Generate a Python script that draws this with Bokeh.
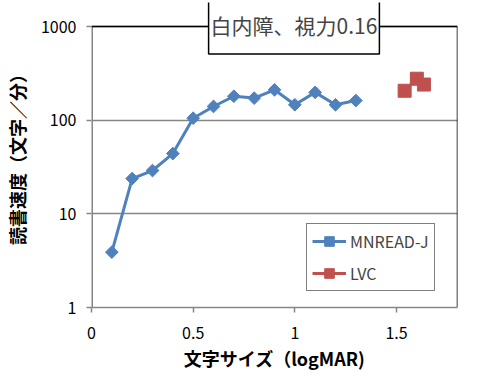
import numpy as np
from bokeh.plotting import figure
from bokeh.models import Label, Legend, LegendItem, FixedTicker, Range1d
from bokeh.embed import file_html
from bokeh.resources import INLINE

# Data
mnread_x = [0.1, 0.2, 0.3, 0.4, 0.5, 0.6, 0.7, 0.8, 0.9, 1.0, 1.1, 1.2, 1.3]
mnread_y = [3.9, 23.8, 29, 44, 105, 140, 180, 172, 211, 146, 198, 146, 162]
lvc_x = [1.54, 1.60, 1.635]
lvc_y = [206, 277, 240]
x_ticks = [0, 0.5, 1, 1.5]
y_ticks = [1, 10, 100, 1000]
title_text = "白内障、視力0.16"
x_label = "文字サイズ（logMAR)"
y_label = "読書速度（文字／分）"

# axis extent of the plot area
x_min, x_max = 0, 1.8
y_min, y_max = 1, 1000

FONT = "Noto Sans CJK JP"
BLUE = "#4F81BD"
RED = "#C0504D"
GRAY = "#868686"

# frame extends a little above the 1000 line so the boxed title is not cut
FRAME_TOP_PAD = 24          # px above the top of the plot area
DECADE_PX = 281 / 3
y_view_top = 10 ** (np.log10(y_max) + FRAME_TOP_PAD / DECADE_PX)

p = figure(width=488, height=384, y_axis_type="log",
           x_range=Range1d(x_min, x_max), y_range=Range1d(y_min, y_view_top),
           output_backend="svg", toolbar_location=None,
           min_border_left=91, min_border_right=31,
           min_border_top=26 - FRAME_TOP_PAD, min_border_bottom=77)

p.background_fill_color = "white"
p.border_fill_color = "white"
p.outline_line_color = None

# grid
p.xgrid.grid_line_color = None
p.ygrid.grid_line_color = GRAY
p.ygrid.grid_line_width = 1.5

# axes
p.xaxis.ticker = FixedTicker(ticks=x_ticks)
p.yaxis.ticker = FixedTicker(ticks=y_ticks)
p.xaxis.major_label_overrides = {0: "0", 0.5: "0.5", 1: "1", 1.5: "1.5"}
p.yaxis.major_label_overrides = {1: "1", 10: "10", 100: "100", 1000: "1000"}
for ax in (p.xaxis, p.yaxis):
    ax.axis_line_color = GRAY
    ax.axis_line_width = 1.5
    ax.major_tick_line_color = GRAY
    ax.major_tick_line_width = 1.5
    ax.major_tick_in = 0
    ax.major_tick_out = 5
    ax.minor_tick_line_color = None
    ax.major_label_text_font = FONT
    ax.major_label_text_font_size = "16px"
    ax.major_label_text_color = "black"
    ax.axis_label_text_font = FONT
    ax.axis_label_text_font_size = "18px"
    ax.axis_label_text_font_style = "bold"
    ax.axis_label_text_color = "black"
p.yaxis.axis_line_color = None
p.xaxis.major_label_standoff = 14
p.yaxis.major_label_standoff = 10
p.xaxis.axis_label = x_label
p.yaxis.axis_label = y_label
p.xaxis.axis_label_standoff = 3
p.yaxis.axis_label_standoff = 8

# plot-area edges: gray value axis on the left, black border top and right
p.segment(x0=[x_min], y0=[y_min], x1=[x_min], y1=[y_max],
          line_color=GRAY, line_width=3)
p.segment(x0=[x_min, x_max], y0=[y_max, y_min], x1=[x_max, x_max],
          y1=[y_max, y_max], line_color="black", line_width=1.5)

# series
l1 = p.line(mnread_x, mnread_y, line_color=BLUE, line_width=3)
m1 = p.scatter(mnread_x, mnread_y, marker="square", angle=np.pi / 4, size=9,
               fill_color=BLUE, line_color=BLUE)
l2 = p.line(lvc_x, lvc_y, line_color=RED, line_width=3)
m2 = p.scatter(lvc_x, lvc_y, marker="square", size=13,
               fill_color=RED, line_color=RED)

legend = Legend(items=[LegendItem(label="MNREAD-J", renderers=[l1, m1]),
                       LegendItem(label="LVC", renderers=[l2, m2])],
                location=(215, 16))
legend.label_text_font = FONT
legend.label_text_font_size = "16px"
legend.border_line_color = "black"
legend.border_line_width = 1.5
legend.background_fill_color = "white"
legend.background_fill_alpha = 1
legend.glyph_width = 34
legend.glyph_height = 24
legend.label_standoff = 4
legend.padding = 5
legend.spacing = 8
legend.margin = 0
p.add_layout(legend, "center")

title = Label(x=202.5, y=282.5, x_units="screen", y_units="screen",
              text=title_text, text_font=FONT, text_font_size="21px",
              text_align="center", text_baseline="middle",
              border_line_color="black", border_line_width=1.5,
              background_fill_color="white", padding=(2, 14),
              level="overlay")
p.add_layout(title)

open("out.html", "w").write(file_html(p, INLINE))
